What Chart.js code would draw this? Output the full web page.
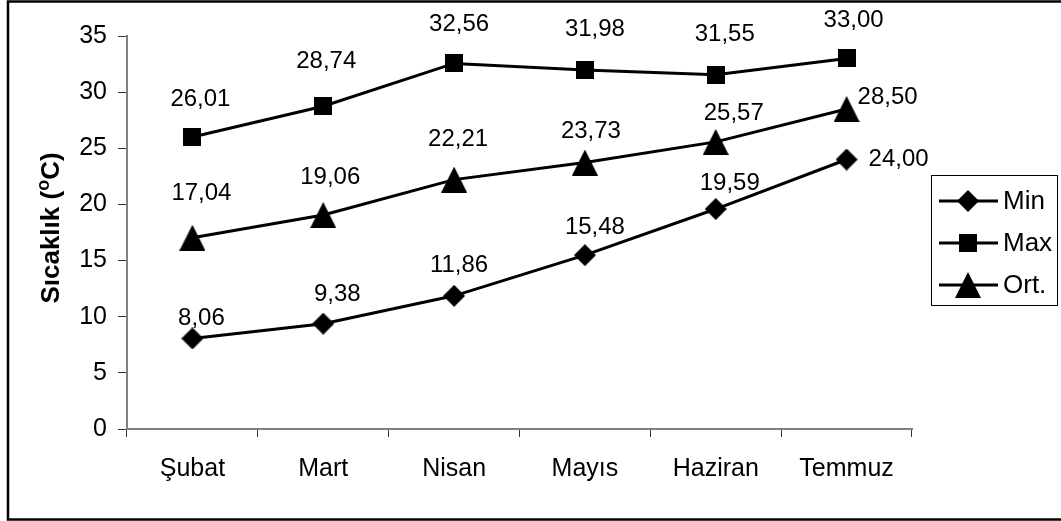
<!DOCTYPE html>
<html>
<head>
<meta charset="utf-8">
<script src="https://cdn.jsdelivr.net/npm/chart.js@4.4.1/dist/chart.umd.min.js"></script>
<style>
  html, body { margin: 0; padding: 0; background: #fff; }
  #wrap { width: 1061px; height: 521px; }
</style>
</head>
<body>
<div id="wrap"><canvas id="chart" width="1061" height="521"></canvas></div>
<script>
const months = ['Şubat', 'Mart', 'Nisan', 'Mayıs', 'Haziran', 'Temmuz'];
const minTemps = [8.06, 9.38, 11.86, 15.48, 19.59, 24.00];
const maxTemps = [26.01, 28.74, 32.56, 31.98, 31.55, 33.00];
const avgTemps = [17.04, 19.06, 22.21, 23.73, 25.57, 28.50];
const seriesNames = ['Min', 'Max', 'Ort.'];
const yTicks = [0, 5, 10, 15, 20, 25, 30, 35];

const FONT = '"Liberation Sans", Arial, sans-serif';

// marker images (so the shapes match the Excel ones)
function makeMarker(kind) {
  const c = document.createElement('canvas');
  const size = { square: [18, 18], diamond: [22, 22], triangle: [26, 26] }[kind];
  c.width = size[0];
  c.height = size[1];
  const g = c.getContext('2d');
  g.fillStyle = '#000';
  g.beginPath();
  if (kind === 'square') {
    g.rect(0, 0, 18, 18);
  } else if (kind === 'diamond') {
    g.moveTo(11, 0); g.lineTo(22, 11); g.lineTo(11, 22); g.lineTo(0, 11);
  } else {
    g.moveTo(13, 0); g.lineTo(26, 26); g.lineTo(0, 26);
  }
  g.closePath();
  g.fill();
  return c;
}
const markers = [makeMarker('diamond'), makeMarker('square'), makeMarker('triangle')];

// hand-placed data label offsets, like in the original sheet
const labelOffsets = [
  [[9, -20], [14, -29], [5, -30], [10, -28], [14, -26], [52, 0]],
  [[8, -38], [3, -45], [5, -39], [10, -41], [9, -40], [7, -38]],
  [[9, -44], [7, -38], [4, -40], [6, -31], [18, -29], [41, -12]]
];

const extrasPlugin = {
  id: 'extras',
  afterDraw(chart) {
    const ctx = chart.ctx;
    ctx.save();

    // outer frame
    ctx.strokeStyle = '#000';
    ctx.lineWidth = 2.5;
    ctx.strokeRect(8, 1.5, 1070, 518);

    // y axis title with superscript o
    ctx.translate(52, 228);
    ctx.rotate(-Math.PI / 2);
    ctx.fillStyle = '#000';
    ctx.textBaseline = 'middle';
    ctx.textAlign = 'left';
    const p1 = 'Sıcaklık (', sup = 'o', p2 = 'C)';
    ctx.font = 'bold 26px ' + FONT;
    const w1 = ctx.measureText(p1).width, w3 = ctx.measureText(p2).width;
    ctx.font = 'bold 18px ' + FONT;
    const w2 = ctx.measureText(sup).width;
    let x = -(w1 + w2 + w3) / 2;
    ctx.font = 'bold 26px ' + FONT;
    ctx.fillText(p1, x, 0);
    x += w1;
    ctx.font = 'bold 18px ' + FONT;
    ctx.fillText(sup, x, -8);
    x += w2;
    ctx.font = 'bold 26px ' + FONT;
    ctx.fillText(p2, x, 0);
    ctx.restore();

    // legend
    ctx.save();
    ctx.strokeStyle = '#000';
    ctx.lineWidth = 1;
    ctx.strokeRect(931.5, 175.5, 126, 130);
    const rows = [201, 243, 285];
    chart.data.datasets.forEach((ds, i) => {
      const y = rows[i];
      ctx.strokeStyle = '#000';
      ctx.lineWidth = 3;
      ctx.beginPath();
      ctx.moveTo(939, y);
      ctx.lineTo(998, y);
      ctx.stroke();
      const m = markers[i];
      ctx.drawImage(m, 968 - m.width / 2, y - m.height / 2);
      ctx.fillStyle = '#000';
      ctx.font = '26px ' + FONT;
      ctx.textAlign = 'left';
      ctx.textBaseline = 'middle';
      ctx.fillText(ds.label, 1003, y + 1);
    });
    ctx.restore();
  },
  afterDatasetsDraw(chart) {
    const ctx = chart.ctx;
    ctx.save();
    ctx.fillStyle = '#000';
    ctx.font = '24px ' + FONT;
    ctx.textAlign = 'center';
    ctx.textBaseline = 'middle';
    chart.data.datasets.forEach((ds, i) => {
      chart.getDatasetMeta(i).data.forEach((pt, j) => {
        const off = labelOffsets[i][j];
        const txt = ds.data[j].toFixed(2).replace('.', ',');
        ctx.fillText(txt, pt.x + off[0], pt.y + off[1]);
      });
    });
    ctx.restore();
  }
};

const datasets = [minTemps, maxTemps, avgTemps].map((values, i) => ({
  label: seriesNames[i],
  data: values,
  borderColor: '#000',
  backgroundColor: '#000',
  borderWidth: 3,
  tension: 0,
  pointStyle: markers[i],
  pointRadius: 12,
  pointHoverRadius: 12,
  clip: false
}));

new Chart(document.getElementById('chart'), {
  type: 'line',
  data: { labels: months, datasets },
  options: {
    responsive: false,
    animation: false,
    events: [],
    layout: { padding: { top: 36, right: 149, left: 0, bottom: 0 } },
    plugins: { legend: { display: false }, tooltip: { enabled: false } },
    scales: {
      x: {
        offset: true,
        grid: { offset: true, drawOnChartArea: false, tickLength: 8, color: '#333', lineWidth: 1 },
        border: { color: '#808080', width: 2 },
        ticks: { color: '#000', font: { family: FONT, size: 25 }, padding: 17, maxRotation: 0 },
        afterFit(scale) { scale.height = 92; }
      },
      y: {
        min: 0,
        max: 35,
        afterBuildTicks(scale) { scale.ticks = yTicks.map(v => ({ value: v })); },
        grid: { drawOnChartArea: false, tickLength: 9, color: '#333', lineWidth: 1 },
        border: { color: '#808080', width: 2 },
        ticks: { color: '#000', font: { family: FONT, size: 25 }, padding: 11 },
        afterFit(scale) { scale.width = 127; }
      }
    }
  },
  plugins: [extrasPlugin]
});
</script>
</body>
</html>
